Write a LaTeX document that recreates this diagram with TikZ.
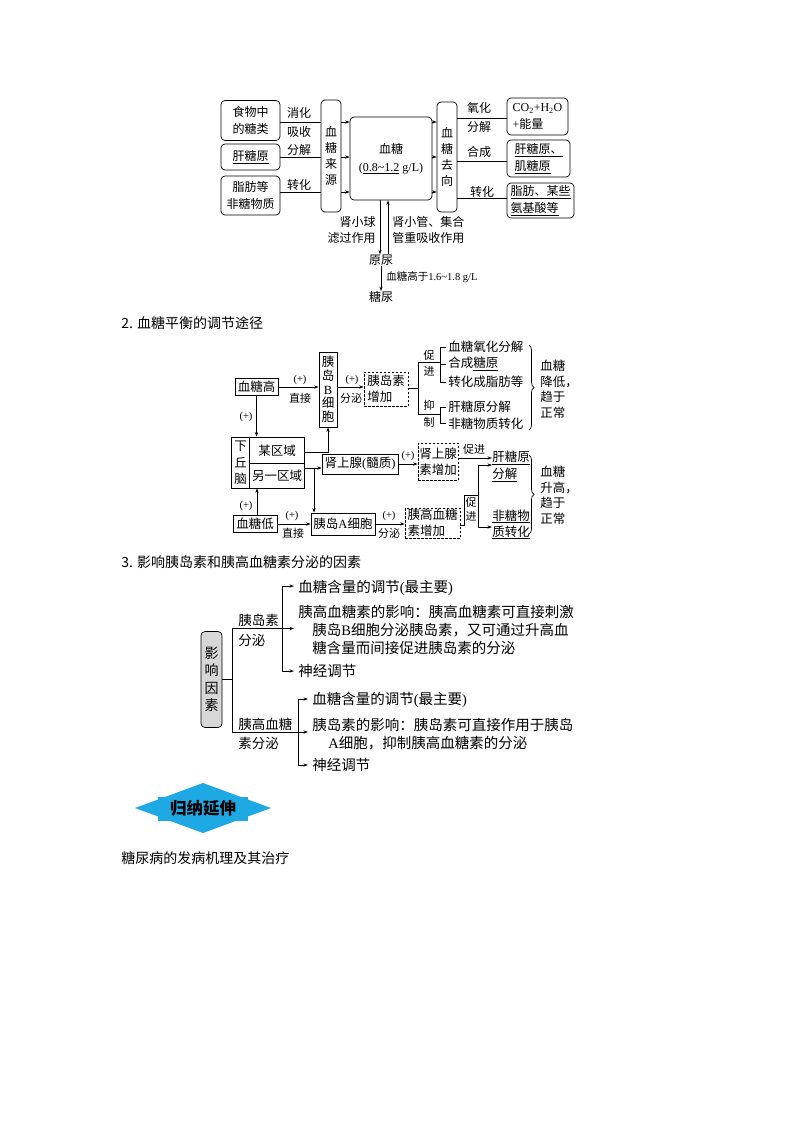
\documentclass[tikz,border=0pt]{standalone}
\usepackage{fontspec}
\setmainfont{Noto Sans CJK SC}
\newfontfamily\rmf{Liberation Serif}
\usetikzlibrary{arrows.meta,decorations.pathreplacing,calc}
\newcommand\fsz[2]{\fontsize{#1}{#2}\selectfont}
\definecolor{dcyan}{RGB}{30,168,228}
\definecolor{lgray}{RGB}{215,215,215}
\begin{document}
\begin{tikzpicture}[x=1pt,y=-1pt,
  line width=0.7pt,
  rbox/.style={draw, rounded corners=4pt, inner sep=0pt, align=center},
  sbox/.style={draw, inner sep=0pt, align=center},
  dbox/.style={draw, dash pattern=on 2.5pt off 1.5pt, inner sep=0pt},
  txt/.style={inner sep=0pt, align=center},
  arr/.style={-{Stealth[length=4.5pt,width=3.2pt]}},
  f1/.style={font=\fsz{12}{17}},
  f1v/.style={font=\fsz{12}{16}},
  f2/.style={font=\fsz{12.5}{16}},
  fs/.style={font=\fsz{11}{13}},
  fp/.style={font=\rmf\fsz{10.5}{12}},
  f3/.style={font=\fsz{14.5}{18}},
  fg/.style={font=\fsz{13.5}{16}},
  ft/.style={font=\fsz{14}{16}},
]
\useasboundingbox (0,0) rectangle (800,1132);

% ---------------- Diagram 1 ----------------
\node[rbox,f1,minimum width=59pt,minimum height=40pt] (n1) at (250.5,120.5) {食物中\\的糖类};
\node[rbox,f1,minimum width=59pt,minimum height=26pt] (n2) at (250.5,157) {\underline{肝糖原}};
\node[rbox,f1,minimum width=59pt,minimum height=39pt] (n3) at (250.5,195.5) {脂肪等\\非糖物质};
\node[rbox,f1v,minimum width=20pt,minimum height=112pt] (src) at (331,156) {血\\糖\\来\\源};
\node[rbox,font=\fsz{12}{18},minimum width=82pt,minimum height=83pt] (xt) at (391,158.5) {血糖\\{\rmf(\underline{0.8\textasciitilde1.2} g/L)}};
\node[rbox,f1v,minimum width=20pt,minimum height=110pt] (qx) at (447,157) {血\\糖\\去\\向};
\node[rbox,f1,minimum width=61pt,minimum height=37pt,align=left] (r1) at (537.5,116.5) {{\rmf CO\textsubscript{2}+H\textsubscript{2}O}\\{\rmf +}能量};
\node[rbox,f1,minimum width=63pt,minimum height=37pt,align=left] (r2) at (538.5,158.5) {\underline{肝糖原、}\\\underline{肌糖原}};
\node[rbox,f1,minimum width=67pt,minimum height=35pt,align=left] (r3) at (540.5,200.5) {\underline{脂肪、某些}\\\underline{氨基酸等}};

\draw (n1.east |- 0,122) -- (src.west |- 0,122);
\draw (n2.east |- 0,157) -- (src.west |- 0,157);
\draw (n3.east |- 0,192) -- (src.west |- 0,192);
\foreach \yy in {122,157,192} {
  \draw[arr] (src.east |- 0,\yy) -- (xt.west |- 0,\yy);
  \draw[arr] (xt.east |- 0,\yy) -- (qx.west |- 0,\yy);
}
\draw (qx.east |- 0,118) -- (r1.west |- 0,118);
\draw (qx.east |- 0,161) -- (r2.west |- 0,161);
\draw (qx.east |- 0,198) -- (r3.west |- 0,198);

\node[txt,f1] (la1) at (299,113) {消化};
\node[txt,f1] (la2) at (299,132) {吸收};
\node[txt,f1] (la3) at (299,150) {分解};
\node[txt,f1] (la4) at (299,185) {转化};
\node[txt,f1] (lb1) at (479,108) {氧化};
\node[txt,f1] (lb2) at (479,127) {分解};
\node[txt,f1] (lb3) at (479,152) {合成};
\node[txt,f1] (lb4) at (482,192) {转化};

\node[txt,f1] (yn) at (381,260) {原尿};
\node[txt,f1] (tn) at (381,297) {糖尿};
\draw[arr] (xt.south -| 380,0) -- (yn.north -| 380,0);
\draw[arr] (yn.north -| 388,0) -- (xt.south -| 388,0);
\draw[arr] (yn.south) -- (tn.north);
\node[txt,f1v,anchor=east,align=right] (k1) at (376,230) {肾小球\\滤过作用};
\node[txt,f1v,anchor=west,align=left] (k2) at (392,230) {肾小管、集合\\管重吸收作用};
\node[txt,font=\fsz{10.5}{12},anchor=west] (k3) at (386,277) {血糖高于{\rmf 1.6\textasciitilde1.8 g/L}};

% ---------------- Section 2 ----------------
\node[txt,ft,anchor=west] (t2) at (121,323) {2. 血糖平衡的调节途径};

\node[sbox,f2,minimum width=43pt,minimum height=17pt] (gh) at (256.5,387) {血糖高};
\node[sbox,font=\fsz{12.5}{13.7},minimum width=18pt,minimum height=75pt] (bc) at (328,389.5) {胰\\岛\\{\rmf B}\\细\\胞};
\node[dbox,f2,minimum width=44pt,minimum height=34pt,align=left] (ds1) at (386,389) {胰岛素\\增加};
\draw[arr] (gh.east) -- (gh.east -| bc.west);
\node[txt,fp] (p1) at (300,380) {(+)};
\node[txt,fs] (p1b) at (300,398) {直接};
\draw[arr] (bc.east |- gh.east) -- (ds1.west |- gh.east);
\node[txt,fp] (p2) at (352,380) {(+)};
\node[txt,fs] (p2b) at (351,398) {分泌};

\draw (ds1.east |- 0,388) -- (418,388);
\draw (418,362) -- (418,414);
\draw (418,362) -- (440,362);
\draw (418,414) -- (440,414);
\draw (446,347) -- (440,347) -- (440,382) -- (446,382);
\draw (440,364) -- (446,364);
\draw (446,407) -- (440,407) -- (440,423) -- (446,423);
\node[txt,fs] (c1) at (429,355) {促};
\node[txt,fs] (c2) at (429,371) {进};
\node[txt,fs] (c3) at (429,405) {抑};
\node[txt,fs] (c4) at (429,422) {制};
\node[txt,f2,anchor=west] (e1) at (448,347) {血糖氧化分解};
\node[txt,f2,anchor=west] (e2) at (448,364) {合成\underline{糖原}};
\node[txt,f2,anchor=west] (e3) at (448,382) {转化成脂肪等};
\node[txt,f2,anchor=west] (e4) at (448,407) {肝糖原分解};
\node[txt,f2,anchor=west] (e5) at (448,424) {非糖物质转化};
\draw[decorate,decoration={brace,amplitude=5pt}] (529,345) -- (529,430);
\node[txt,font=\fsz{12.5}{15.5},anchor=west,align=left] (res1) at (540,389) {血糖\\降低，\\趋于\\正常};

\node[sbox,minimum width=73pt,minimum height=51pt] (hq) at (267.5,462.5) {};
\draw (hq.north -| 249,0) -- (hq.south -| 249,0);
\draw (249,463) -- (hq.east |- 0,463);
\node[txt,font=\fsz{12.5}{16.5}] (hq1) at (240.5,463) {下\\丘\\脑};
\node[txt,f2] (hq2) at (277,451) {某区域};
\node[txt,f2] (hq3) at (277,476) {另一区域};
\draw[arr] (gh.south) -- (gh.south |- hq.north);
\node[txt,fp] (p3) at (246,417) {(+)};
\draw[arr] (hq.east |- 0,452) -| (bc.south);

\node[sbox,f2,minimum width=76pt,minimum height=20pt] (sx) at (360,464) {肾上腺{\rmf(}髓质{\rmf)}};
\draw[arr] (hq.east |- 0,468) -- (sx.west |- 0,468);
\node[sbox,f2,minimum width=64pt,minimum height=22pt] (ya) at (343,524) {胰岛{\rmf A}细胞};
\coordinate (br) at (314,468);
\draw[arr] (br) -- (ya.north -| br);

\node[dbox,f2,minimum width=40pt,minimum height=37pt,align=left] (ds2) at (438,461.5) {肾上腺\\素增加};
\draw[arr] (sx.east) -- (sx.east -| ds2.west);
\node[txt,fp] (p4) at (408,456) {(+)};
\node[txt,font=\fsz{12.5}{17},anchor=west,align=left] (ga) at (492,466.5) {\underline{肝糖原}\\\underline{分解}};
\node[txt,font=\fsz{12.5}{16},anchor=west,align=left] (fz) at (492,524.5) {\underline{非糖物}\\\underline{质转化}};
\draw[arr] (ds2.east |- 0,458) -- (ga.west |- 0,458);
\node[txt,fs] (c5) at (474,449) {促进};

\node[sbox,f2,minimum width=44pt,minimum height=17pt] (dg) at (255,523.5) {血糖低};
\draw[arr] (dg.north -| 257,0) -- (hq.south -| 257,0);
\node[txt,fp] (p5) at (246,506) {(+)};
\draw[arr] (dg.east |- ya.west) -- (ya.west);
\node[txt,fp] (p6) at (292,516) {(+)};
\node[txt,fs] (p6b) at (293,533) {直接};
\node[dbox,f2,minimum width=55pt,minimum height=30pt,align=left] (ds3) at (432.5,523) {胰高血糖\\素增加};
\draw[arr] (ya.east) -- (ya.east -| ds3.west);
\node[txt,fp] (p7) at (389,516) {(+)};
\node[txt,fs] (p7b) at (389,533) {分泌};
\draw (ds3.east |- 0,525) -- (464,525) -- (464,495) -- (478,495);
\draw (478,465) -- (478,527);
\draw[arr] (478,465) -- (ga.west |- 0,465);
\draw[arr] (478,527) -- (fz.west |- 0,527);
\node[txt,fs] (c6) at (471,502) {促};
\node[txt,fs] (c7) at (471,516) {进};
\draw[decorate,decoration={brace,amplitude=5pt}] (529,455) -- (529,534);
\node[txt,font=\fsz{12.5}{15.5},anchor=west,align=left] (res2) at (540,495) {血糖\\升高，\\趋于\\正常};

% ---------------- Section 3 ----------------
\node[txt,ft,anchor=west] (t3) at (121,562) {3. 影响胰岛素和胰高血糖素分泌的因素};

\node[draw,rounded corners=4pt,fill=lgray,font=\fsz{14}{17.5},minimum width=21pt,minimum height=96pt,align=center,inner sep=0pt] (yx) at (211.5,679.5) {影\\响\\因\\素};
\coordinate (v0) at (232,679.5);
\draw (yx.east) -- (v0);
\draw (232,628) -- (232,732);

\node[txt,f3,anchor=west] (i1) at (298,588) {血糖含量的调节{\rmf(}最主要{\rmf)}};
\node[txt,f3,anchor=west,align=left] (i2) at (298,630) {胰高血糖素的影响：胰高血糖素可直接刺激\\\hspace*{14pt}胰岛{\rmf B}细胞分泌胰岛素，又可通过升高血\\\hspace*{14pt}糖含量而间接促进胰岛素的分泌};
\node[txt,f3,anchor=west] (i3) at (298,671) {神经调节};
\draw (282,586) -- (282,671);
\draw[arr] (282,586) -- ([xshift=-4pt]i1.west |- 0,586);
\draw[arr] (232,628.5) -- ([xshift=-4pt]i2.west |- 0,628.5);
\draw[arr] (282,671) -- ([xshift=-4pt]i3.west);
\node[txt,fg,anchor=west] (g1) at (238,620) {胰岛素};
\node[txt,fg,anchor=west] (g2) at (238,640) {分泌};

\node[txt,f3,anchor=west] (i4) at (312,700) {血糖含量的调节{\rmf(}最主要{\rmf)}};
\node[txt,f3,anchor=west,align=left] (i5) at (312,734) {胰岛素的影响：胰岛素可直接作用于胰岛\\\hspace*{16pt}{\rmf A}细胞，抑制胰高血糖素的分泌};
\node[txt,f3,anchor=west] (i6) at (312,765) {神经调节};
\draw (298,699) -- (298,765);
\draw[arr] (298,699) -- ([xshift=-4pt]i4.west |- 0,699);
\draw[arr] (232,732) -- ([xshift=-4pt]i5.west |- 0,732);
\draw[arr] (298,765) -- ([xshift=-4pt]i6.west);
\node[txt,fg,anchor=west] (g3) at (238,724) {胰高血糖};
\node[txt,fg,anchor=west] (g4) at (238,743) {素分泌};

% ---------------- Diamond ----------------
\fill[dcyan] (135,808) -- (203,783) -- (271,808) -- (203,833) -- cycle;
\fill[dcyan] (158,797) rectangle (248,821);
\node[txt,font=\bfseries\fsz{16.5}{18}] (gn) at (203,808) {归纳延伸};

\node[txt,ft,anchor=west] (t4) at (121,858) {糖尿病的发病机理及其治疗};
\end{tikzpicture}
\end{document}
